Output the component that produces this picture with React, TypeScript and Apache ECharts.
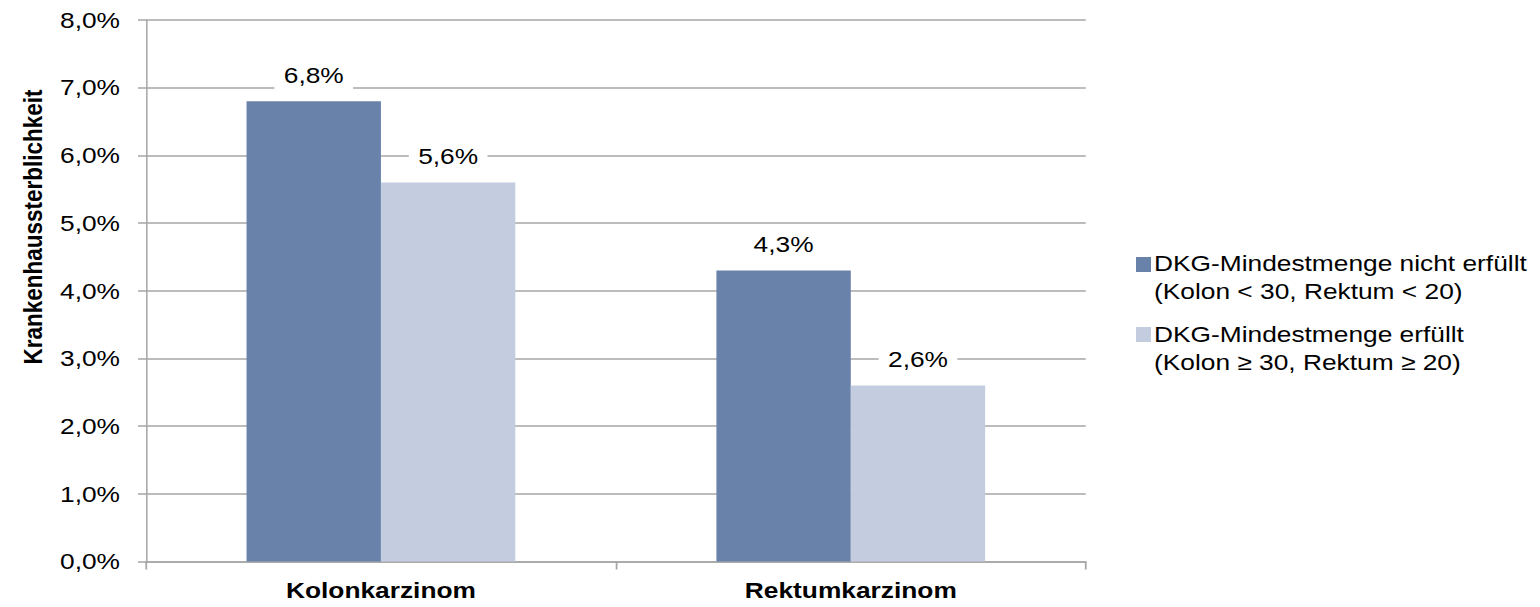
import React, { useEffect, useRef } from "react";
import * as echarts from "echarts";

const categories = ["Kolonkarzinom", "Rektumkarzinom"];
const seriesNames = [
  "DKG-Mindestmenge nicht erfüllt\n(Kolon < 30, Rektum < 20)",
  "DKG-Mindestmenge erfüllt\n(Kolon ≥ 30, Rektum ≥ 20)",
];
const notMet = [6.8, 4.3];
const met = [5.6, 2.6];
const yAxisTitle = "Krankenhaussterblichkeit";
const yMin = 0;
const yMax = 8;
const yInterval = 1;

const COLORS = ["#6882AA", "#C4CDDF"];
const FONT = "'Liberation Sans', Arial, Helvetica, sans-serif";
const FS = 22.5;
const S = 1.17; // horizontal stretch of the reference
const W = 1540 / S;
const H = 607;
const fmt = (v: number) => v.toFixed(1).replace(".", ",") + "%";

export default function App() {
  const ref = useRef<HTMLDivElement>(null);
  useEffect(() => {
    if (!ref.current) return;
    const chart = echarts.init(ref.current, undefined, { renderer: "svg" });
    const label = {
      show: true,
      position: "top",
      distance: 11,
      formatter: (p: any) => fmt(p.value),
      color: "#000",
      fontFamily: FONT,
      fontSize: FS,
      backgroundColor: "#fff",
      padding: [4, 8, 4, 8],
    };
    chart.setOption({
      animation: false,
      backgroundColor: "#fff",
      grid: { left: 146 / S, right: W - 1086 / S, top: 20, bottom: 45.5, containLabel: false },
      xAxis: {
        type: "category",
        data: categories,
        axisLine: { lineStyle: { color: "#A6A6A6", width: 1.5 } },
        axisTick: { show: true, length: 8, lineStyle: { color: "#A6A6A6", width: 1.5 } },
        axisLabel: { color: "#000", fontFamily: FONT, fontSize: FS, fontWeight: "bold", margin: 17 },
      },
      yAxis: {
        type: "value",
        min: yMin,
        max: yMax,
        interval: yInterval,
        axisLine: { show: true, lineStyle: { color: "#A6A6A6", width: 1.3 } },
        axisTick: { show: true, length: 8 / S, lineStyle: { color: "#A6A6A6", width: 1.5 } },
        axisLabel: { color: "#000", fontFamily: FONT, fontSize: FS, margin: 26 / S, formatter: (v: number) => fmt(v) },
        splitLine: { show: true, lineStyle: { color: "#A6A6A6", width: 1.5 } },
      },
      series: [
        { type: "bar", name: seriesNames[0], data: notMet, barWidth: "28.6%", barGap: "0%", itemStyle: { color: COLORS[0] }, label },
        { type: "bar", name: seriesNames[1], data: met, barWidth: "28.6%", barGap: "0%", itemStyle: { color: COLORS[1] }, label },
      ],
      graphic: [
        {
          type: "text",
          x: 33 / S,
          y: 227,
          rotation: Math.PI / 2,
          style: { text: yAxisTitle, fill: "#000", font: `bold ${FS}px ${FONT}`, align: "center", verticalAlign: "middle" },
        },
        { type: "rect", shape: { x: 1136 / S, y: 257, width: 15 / S, height: 15 }, style: { fill: COLORS[0] } },
        {
          type: "text",
          x: 1154 / S,
          y: 249,
          style: { text: seriesNames[0], fill: "#000", font: `${FS}px ${FONT}`, lineHeight: 28, align: "left", verticalAlign: "top" },
        },
        { type: "rect", shape: { x: 1136 / S, y: 327, width: 15 / S, height: 15 }, style: { fill: COLORS[1] } },
        {
          type: "text",
          x: 1154 / S,
          y: 320,
          style: { text: seriesNames[1], fill: "#000", font: `${FS}px ${FONT}`, lineHeight: 28, align: "left", verticalAlign: "top" },
        },
      ],
    });
    return () => chart.dispose();
  }, []);
  return (
    <div style={{ position: "fixed", left: 0, top: 0, width: 1540, height: H, overflow: "hidden", background: "#fff" }}>
      <div
        ref={ref}
        style={{ width: W, height: H, transform: `scaleX(${S})`, transformOrigin: "0 0" }}
      />
    </div>
  );
}
